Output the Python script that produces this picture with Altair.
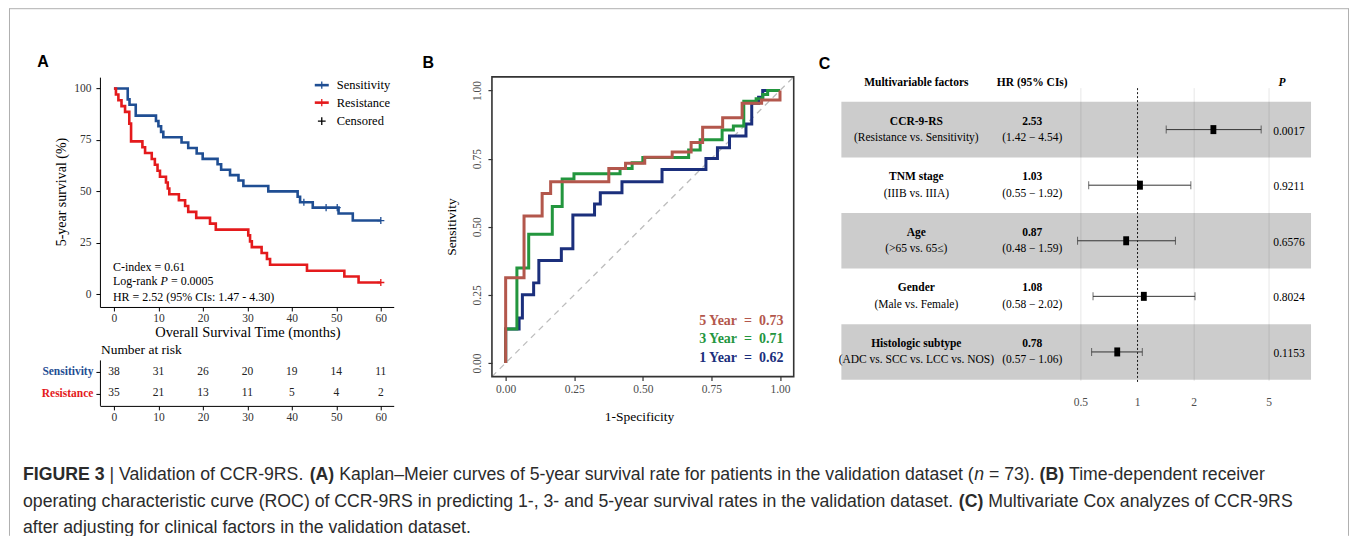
import altair as alt
import pandas as pd

W, H = 1342, 528          # whole drawing area (page origin is at 8,8)
def X(v): return v - 8    # page pixel -> chart pixel
def Y(v): return v - 8

SERIF = "Liberation Serif"
SANS = "Liberation Sans"

# ---------------- data : panel A (Kaplan-Meier) ----------------
km_ticks_x = [0, 10, 20, 30, 40, 50, 60]
km_ticks_y = [0, 25, 50, 75, 100]
sens_time = [0, 3.1, 3.5, 4.9, 9.45, 10.0, 10.6, 11.1, 15.2, 16.7, 18.6, 19.95, 23.3, 24.1,
             26.1, 28.0, 29.1, 34.7, 41.3, 41.85, 44.7, 50.5, 53.7, 60]
sens_surv = [100, 94.7, 92.1, 86.8, 84.2, 81.6, 78.9, 76.3, 73.7, 71.1, 68.4, 65.8, 63.2, 60.5,
             57.9, 55.3, 52.6, 50.0, 47.4, 44.7, 42.1, 39.2, 35.8, 35.8]
res_time = [0, 0.45, 1.0, 1.7, 2.5, 3.45, 3.85, 6.4, 7.0, 8.5, 9.2, 9.8, 10.35, 11.7, 12.1, 12.45,
            14.6, 16.0, 16.7, 18.5, 21.6, 22.9, 30.2, 30.6, 31.0, 33.2, 34.4, 35.1, 43.4, 51.8, 55.0, 60]
res_surv = [100, 97.1, 94.3, 91.4, 88.6, 82.9, 74.3, 71.4, 68.6, 65.7, 62.9, 60.0, 57.1, 54.3, 51.4,
            48.6, 45.7, 42.9, 40.0, 37.1, 34.3, 31.4, 28.6, 25.7, 22.9, 20.0, 17.1, 14.3, 11.4, 8.6, 5.7, 5.7]
sens_cens_time = [42.7, 47.7, 50.2, 60]
sens_cens_surv = [44.7, 42.1, 42.1, 35.8]
res_cens_time = [60]
res_cens_surv = [5.7]
risk_groups = ["Sensitivity", "Resistance"]
risk_sens = [38, 31, 26, 20, 19, 14, 11]
risk_res = [35, 21, 13, 11, 5, 4, 2]
km_legend = ["Sensitivity", "Resistance", "Censored"]
km_notes = ["C-index = 0.61", "0.0005", "HR = 2.52 (95% CIs: 1.47 - 4.30)"]

# ---------------- data : panel B (ROC) ----------------
roc_ticks = [0, 0.25, 0.5, 0.75, 1.0]
roc5_fpr = [0, 0, 0.067, 0.133, 0.164, 0.376, 0.437, 0.507, 0.607, 0.676, 0.718, 0.791, 0.862, 0.933, 1.0]
roc5_tpr = [0, 0.3125, 0.539, 0.622, 0.665, 0.714, 0.733, 0.755, 0.774, 0.809, 0.865, 0.90, 0.953, 0.965, 1.0]
roc3_fpr = [0, 0, 0.041, 0.084, 0.17, 0.206, 0.249, 0.417, 0.461, 0.5, 0.667, 0.709, 0.789, 0.83, 0.868,
            0.913, 0.937, 0.955, 1.0]
roc3_tpr = [0, 0.125, 0.349, 0.472, 0.574, 0.675, 0.694, 0.714, 0.735, 0.754, 0.782, 0.819, 0.855, 0.87,
            0.96, 0.97, 0.985, 1.0, 1.0]
roc1_fpr = [0, 0, 0.049, 0.061, 0.102, 0.121, 0.203, 0.245, 0.324, 0.345, 0.424, 0.57, 0.73, 0.772,
            0.816, 0.876, 0.897, 0.922, 0.937, 1.0]
roc1_tpr = [0, 0.125, 0.165, 0.25, 0.294, 0.376, 0.419, 0.543, 0.583, 0.625, 0.665, 0.71, 0.75, 0.79,
            0.833, 0.877, 0.953, 0.975, 1.0, 1.0]
roc_labels = ["5 Year\u00a0 =\u00a0 0.73", "3 Year\u00a0 =\u00a0 0.71", "1 Year\u00a0 =\u00a0 0.62"]

# ---------------- data : panel C (forest) ----------------
factors = ["CCR-9-RS", "TNM stage", "Age", "Gender", "Histologic subtype"]
contrasts = ["(Resistance vs. Sensitivity)", "(IIIB vs. IIIA)", "(>65 vs. 65\u2264)",
             "(Male vs. Female)", "(ADC vs. SCC vs. LCC vs. NOS)"]
hr = [2.53, 1.03, 0.87, 1.08, 0.78]
hr_lo = [1.42, 0.55, 0.48, 0.58, 0.57]
hr_hi = [4.54, 1.92, 1.59, 2.02, 1.06]
pvals = ["0.0017", "0.9211", "0.6576", "0.8024", "0.1153"]
forest_ticks = [0.5, 1, 2, 5]

# ---------------- caption (runs of text: string, weight, style) ----------------
caption = [
    [("FIGURE 3", "bold", "normal"), (" | Validation of CCR-9RS. ", "normal", "normal"),
     ("(A)", "bold", "normal"),
     (" Kaplan\u2013Meier curves of 5-year survival rate for patients in the validation dataset (", "normal", "normal"),
     ("n", "normal", "italic"), (" = 73). ", "normal", "normal"), ("(B)", "bold", "normal"),
     (" Time-dependent receiver", "normal", "normal")],
    [("operating characteristic curve (ROC) of CCR-9RS in predicting 1-, 3- and 5-year survival rates in the validation dataset. ",
      "normal", "normal"), ("(C)", "bold", "normal"),
     (" Multivariate Cox analyzes of CCR-9RS", "normal", "normal")],
    [("after adjusting for clinical factors in the validation dataset.", "normal", "normal")],
]
caption_y = [475.5, 502, 528.5]
CAP_X0 = 23
CAP_SIZE = 17.7

# Arial / Liberation Sans advance widths (per 1000 em) used to place the caption runs
_REG = {" ": 278, "|": 260, ".": 278, ",": 278, "(": 333, ")": 333, "-": 333, "\u2013": 556, "=": 584,
        "A": 667, "B": 667, "C": 722, "E": 667, "F": 611, "G": 778, "I": 278, "K": 667, "M": 833,
        "O": 778, "R": 722, "S": 667, "T": 611, "U": 722, "V": 667,
        "a": 556, "b": 556, "c": 500, "d": 556, "e": 556, "f": 278, "g": 556, "h": 556, "i": 222,
        "j": 222, "k": 500, "l": 222, "m": 833, "n": 556, "o": 556, "p": 556, "q": 556, "r": 333,
        "s": 500, "t": 278, "u": 556, "v": 500, "w": 722, "x": 500, "y": 500, "z": 500}
_BOLD = {" ": 278, "(": 333, ")": 333, "A": 722, "B": 722, "C": 722, "E": 667, "F": 611, "G": 778,
         "I": 278, "R": 722, "U": 722}


def run_width(s, weight):
    tbl = _BOLD if weight == "bold" else _REG
    return sum(tbl.get(c, 556) for c in s) * CAP_SIZE / 1000.0


BLUE, RED = "#1F4E93", "#E41A1C"
C5, C3, C1 = "#B3574C", "#23963E", "#1B2F7C"

layers = []


def text_at(s, x, y, size, font=SERIF, weight="normal", style="normal", color="black",
            align="left", baseline="middle", angle=0):
    d = pd.DataFrame({"t": [s]})
    return alt.Chart(d).mark_text(font=font, fontSize=size, fontWeight=weight, fontStyle=style,
                                  color=color, align=align, baseline=baseline, angle=angle).encode(
        x=alt.value(X(x)), y=alt.value(Y(y)), text="t:N")


def seg_rule(x1, x2, y1, y2, color, width, dash=None):
    d = pd.DataFrame({"a": [0]})
    kw = dict(color=color, strokeWidth=width)
    if dash:
        kw["strokeDash"] = dash
    return alt.Chart(d).mark_rule(**kw).encode(
        x=alt.value(x1), x2=alt.value(x2), y=alt.value(y1), y2=alt.value(y2))


# frame
layers.append(seg_rule(1.5, 1.5, 0, H, "#b0b0b0", 1))
layers.append(seg_rule(1.5, W - 0.5, 0.5, 0.5, "#b0b0b0", 1))
layers.append(seg_rule(W - 0.5, W - 0.5, 0, H, "#b0b0b0", 1))

# ================= panel A =================
xA = alt.Scale(domain=[-3.15, 62.9], range=[X(100), X(394)], nice=False, zero=False)
yA = alt.Scale(domain=[-6.2, 105.5], range=[Y(307), Y(77)], nice=False, zero=False)
axA_x = alt.Axis(orient="bottom", offset=Y(307) - H, values=km_ticks_x, title=None, grid=False,
                 domainColor="black", domainWidth=1, tickColor="black", tickSize=4, tickWidth=1,
                 labelFont=SERIF, labelFontSize=11.5, labelColor="#333333", labelPadding=2)
axA_y = alt.Axis(orient="left", offset=-X(100), values=km_ticks_y, title=None, grid=False,
                 domainColor="black", domainWidth=1, tickColor="black", tickSize=4, tickWidth=1,
                 labelFont=SERIF, labelFontSize=11.5, labelColor="#333333", labelPadding=5)

sens_df = pd.DataFrame({"t": sens_time, "s": sens_surv})
res_df = pd.DataFrame({"t": res_time, "s": res_surv})
layers.append(alt.Chart(sens_df).mark_line(interpolate="step-after", color=BLUE, strokeWidth=2.6).encode(
    x=alt.X("t:Q", scale=xA, axis=axA_x), y=alt.Y("s:Q", scale=yA, axis=axA_y)))
layers.append(alt.Chart(res_df).mark_line(interpolate="step-after", color=RED, strokeWidth=2.6).encode(
    x=alt.X("t:Q", scale=xA, axis=None), y=alt.Y("s:Q", scale=yA, axis=None)))

CROSS = "M-1,0L1,0M0,-1L0,1"
for ct, cs, col in [(sens_cens_time, sens_cens_surv, BLUE), (res_cens_time, res_cens_surv, RED)]:
    d = pd.DataFrame({"t": ct, "s": cs})
    layers.append(alt.Chart(d).mark_point(shape=CROSS, filled=False, color=col, strokeWidth=1.3, size=50,
                                          opacity=1).encode(
        x=alt.X("t:Q", scale=xA, axis=None), y=alt.Y("s:Q", scale=yA, axis=None)))

# legend of A
for lab, yy, col in zip(km_legend, [85, 102.5, 121], [BLUE, RED, "black"]):
    if col != "black":
        layers.append(seg_rule(X(315), X(329), Y(yy), Y(yy), col, 2.6))
    d = pd.DataFrame({"a": [0]})
    layers.append(alt.Chart(d).mark_point(shape=CROSS, filled=False, color=col, strokeWidth=1.3,
                                          size=50 if col != "black" else 60, opacity=1).encode(
        x=alt.value(X(322)), y=alt.value(Y(yy))))
    layers.append(text_at(lab, 337, yy, 12.5))

# texts of A
layers.append(text_at("A", 43, 62, 16, font=SANS, weight="bold", align="center"))
layers.append(text_at("5-year survival (%)", 62, 192, 14, align="center", angle=270))
layers.append(text_at("Overall Survival Time (months)", 248, 333, 14.5, align="center"))
layers.append(text_at(km_notes[0], 113, 267, 12))
layers.append(text_at("Log-rank", 113, 281.5, 12))
layers.append(text_at("P", 160.6, 281.5, 12, style="italic"))
layers.append(text_at("= " + km_notes[1], 171, 281.5, 12))
layers.append(text_at(km_notes[2], 113, 297, 12))
layers.append(text_at("Number at risk", 101, 350, 13.5))

# risk table
risk_df = pd.DataFrame({
    "group": [risk_groups[0]] * len(km_ticks_x) + [risk_groups[1]] * len(km_ticks_x),
    "month": km_ticks_x + km_ticks_x,
    "n": risk_sens + risk_res})
yR = alt.Scale(type="point", domain=risk_groups, range=[Y(360), Y(405.5)], padding=0.55)
axR_x = alt.Axis(orient="bottom", offset=Y(406) - H, values=km_ticks_x, title=None, grid=False,
                 domainColor="black", domainWidth=1, tickColor="black", tickSize=4, tickWidth=1,
                 labelFont=SERIF, labelFontSize=11.5, labelColor="#333333", labelPadding=2)
axR_y = alt.Axis(orient="left", offset=-X(100), title=None, grid=False,
                 domainColor="black", domainWidth=1, tickColor="black", tickSize=4, tickWidth=1,
                 labelFont=SERIF, labelFontSize=11.5, labelFontWeight="bold", labelPadding=3,
                 labelColor={"condition": {"test": "datum.value === 'Sensitivity'", "value": BLUE},
                             "value": RED})
layers.append(alt.Chart(risk_df).mark_text(font=SERIF, fontSize=11.5, color="#222222").encode(
    x=alt.X("month:Q", scale=xA, axis=axR_x),
    y=alt.Y("group:N", scale=yR, axis=axR_y),
    text="n:Q"))

# ================= panel B =================
xB = alt.Scale(domain=[-0.05, 1.05], range=[X(492.3), X(794.3)], nice=False, zero=False)
yB = alt.Scale(domain=[-0.05, 1.05], range=[Y(376.7), Y(76.7)], nice=False, zero=False)
axB_x = alt.Axis(orient="bottom", offset=Y(376.7) - H, values=roc_ticks, format=".2f", title=None,
                 grid=False, domain=False, tickColor="#333333", tickSize=4, tickWidth=1.2,
                 labelFont=SERIF, labelFontSize=11.5, labelColor="#4d4d4d", labelPadding=3)
axB_y = alt.Axis(orient="left", offset=-X(492.3), values=roc_ticks, format=".2f", title=None,
                 grid=False, domain=False, tickColor="#333333", tickSize=4, tickWidth=1.2,
                 labelFont=SERIF, labelFontSize=11.5, labelColor="#4d4d4d", labelPadding=5,
                 labelAngle=270, labelAlign="center", labelBaseline="bottom")

diag = pd.DataFrame({"x": [-0.05, 1.05], "y": [-0.05, 1.05]})
layers.append(alt.Chart(diag).mark_line(color="#bdbdbd", strokeWidth=1.3, strokeDash=[6, 5]).encode(
    x=alt.X("x:Q", scale=xB, axis=axB_x), y=alt.Y("y:Q", scale=yB, axis=axB_y)))

for fpr, tpr, col in [(roc1_fpr, roc1_tpr, C1), (roc3_fpr, roc3_tpr, C3), (roc5_fpr, roc5_tpr, C5)]:
    d = pd.DataFrame({"i": list(range(len(fpr))), "x": fpr, "y": tpr})
    layers.append(alt.Chart(d).mark_line(interpolate="step-after", color=col, strokeWidth=3).encode(
        x=alt.X("x:Q", scale=xB, axis=None), y=alt.Y("y:Q", scale=yB, axis=None), order="i:Q"))

frame_df = pd.DataFrame({"x0": [-0.05], "x1": [1.05], "y0": [-0.05], "y1": [1.05]})
layers.append(alt.Chart(frame_df).mark_rect(fillOpacity=0, stroke="#333333", strokeWidth=1.6).encode(
    x=alt.X("x0:Q", scale=xB, axis=None), x2="x1:Q",
    y=alt.Y("y0:Q", scale=yB, axis=None), y2="y1:Q"))

layers.append(text_at("B", 428.5, 63, 16, font=SANS, weight="bold", align="center"))
layers.append(text_at("Sensitivity", 452, 227, 13.5, align="center", angle=270))
layers.append(text_at("1-Specificity", 640, 417, 13.5, align="center"))
for lab, yy, col in zip(roc_labels, [321, 339.5, 358], [C5, C3, C1]):
    layers.append(text_at(lab, 784, yy, 14, weight="bold", color=col, align="right"))

# ================= panel C =================
xC = alt.Scale(type="log", domain=[0.5, 5], range=[X(1081.7), X(1270)], nice=False)
yC = alt.Scale(domain=[0, 4], range=[Y(129.5), Y(352)], nice=False, zero=False)
fdf = pd.DataFrame({"idx": list(range(len(factors))), "factor": factors, "contrast": contrasts,
                    "hr": hr, "lo": hr_lo, "hi": hr_hi, "p": pvals})
fdf["hr_txt"] = [f"{v:.2f}" for v in hr]
fdf["ci_txt"] = [f"({a:.2f} \u2212 {b:.2f})" for a, b in zip(hr_lo, hr_hi)]

bands = alt.Chart(fdf).transform_filter("datum.idx % 2 == 0").transform_calculate(
    y0="datum.idx - 0.5", y1="datum.idx + 0.5").mark_rect(color="#cccccc").encode(
    x=alt.value(X(842)), x2=alt.value(X(1312)),
    y=alt.Y("y0:Q", scale=yC, axis=None), y2="y1:Q")
layers.append(bands)

tick_df = pd.DataFrame({"v": forest_ticks})
layers.append(alt.Chart(tick_df).transform_filter("datum.v != 1").mark_rule(
    color="black", opacity=0.1, strokeWidth=1).encode(
    x=alt.X("v:Q", scale=xC, axis=None), y=alt.value(Y(88)), y2=alt.value(Y(381))))
layers.append(alt.Chart(tick_df).transform_filter("datum.v == 1").mark_rule(
    color="black", strokeWidth=0.9, strokeDash=[2, 2]).encode(
    x=alt.X("v:Q", scale=xC, axis=None), y=alt.value(Y(88)), y2=alt.value(Y(382))))
layers.append(alt.Chart(tick_df).mark_text(font=SERIF, fontSize=11.5, color="#4d4d4d").encode(
    x=alt.X("v:Q", scale=xC, axis=None), y=alt.value(Y(403)), text="v:N"))

layers.append(alt.Chart(fdf).mark_rule(color="#333333", strokeWidth=1).encode(
    x=alt.X("lo:Q", scale=xC, axis=None), x2="hi:Q", y=alt.Y("idx:Q", scale=yC, axis=None)))
for col_ in ["lo", "hi"]:
    layers.append(alt.Chart(fdf).mark_tick(orient="vertical", size=8, thickness=1, color="#333333").encode(
        x=alt.X(f"{col_}:Q", scale=xC, axis=None), y=alt.Y("idx:Q", scale=yC, axis=None)))
layers.append(alt.Chart(fdf).mark_point(shape="M-0.65,-1H0.65V1H-0.65Z", filled=True, size=81,
                                        color="black", opacity=1).encode(
    x=alt.X("hr:Q", scale=xC, axis=None), y=alt.Y("idx:Q", scale=yC, axis=None)))


def col_text(field, xpos, dy, weight="normal", align="center"):
    return alt.Chart(fdf).mark_text(font=SERIF, fontSize=11.5, fontWeight=weight, color="black",
                                    align=align, dy=dy).encode(
        x=alt.value(X(xpos)), y=alt.Y("idx:Q", scale=yC, axis=None), text=f"{field}:N")


layers.append(col_text("factor", 917, -8, "bold"))
layers.append(col_text("contrast", 917, 8.5))
layers.append(col_text("hr_txt", 1033, -8, "bold"))
layers.append(col_text("ci_txt", 1033, 8.5))
layers.append(col_text("p", 1290, 2))

layers.append(text_at("C", 825, 64, 16, font=SANS, weight="bold", align="center"))
layers.append(text_at("Multivariable factors", 917, 83, 11.5, weight="bold", align="center"))
layers.append(text_at("HR (95% CIs)", 1033, 83, 11.5, weight="bold", align="center"))
layers.append(text_at("P", 1283, 83, 11.5, weight="bold", style="italic", align="center"))

# ================= caption =================
for line, yy in zip(caption, caption_y):
    xx = CAP_X0
    for s, wgt, sty in line:
        lead = len(s) - len(s.lstrip(" "))
        start = xx + run_width(s[:lead], wgt)
        layers.append(text_at(s.strip(" "), start, yy, CAP_SIZE, font=SANS, weight=wgt, style=sty,
                              color="#2b2b2b"))
        xx += run_width(s, wgt)

chart = alt.layer(*layers).resolve_scale(x="independent", y="independent").properties(
    width=W, height=H, padding=0, autosize=alt.AutoSizeParams(type="none"),
    background="white").configure_view(stroke=None)

chart.save("out.html", embed_options={"renderer": "svg", "actions": False})
